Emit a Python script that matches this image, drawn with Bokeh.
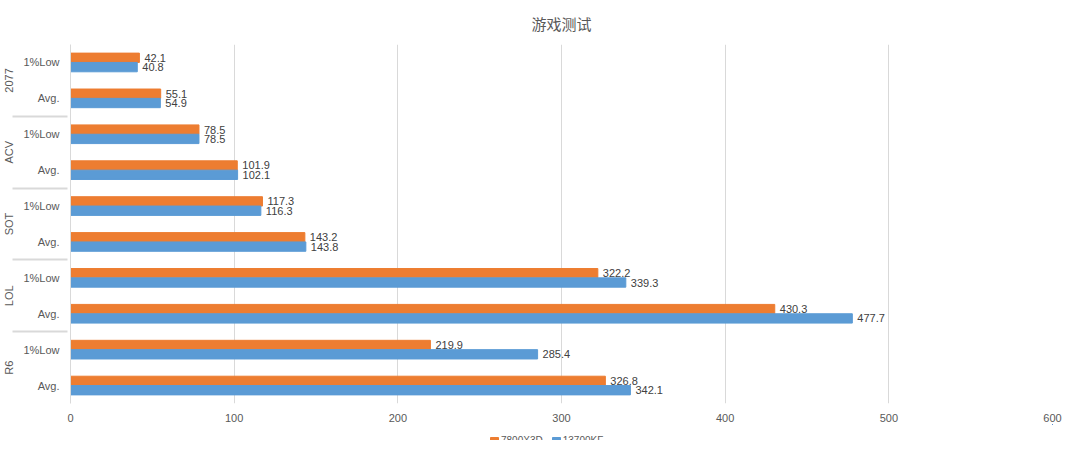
from bokeh.plotting import figure
from bokeh.models import (ColumnDataSource, FactorRange, Legend, LegendItem, FixedTicker,
                          Range1d)
from bokeh.layouts import column
from bokeh.transform import dodge
from bokeh.core.properties import value
from bokeh.embed import file_html
from bokeh.resources import INLINE

games = ["R6", "LOL", "SOT", "ACV", "2077"]          # bottom to top
metrics = ["Avg.", "1%Low"]                          # bottom to top within game
series = ["7800X3D", "13700KF"]
colors = ["#ED7D31", "#5B9BD5"]
# values per (game, metric), order matches factors below
v7800 = [326.8, 219.9, 430.3, 322.2, 143.2, 117.3, 101.9, 78.5, 55.1, 42.1]
v13700 = [342.1, 285.4, 477.7, 339.3, 143.8, 116.3, 102.1, 78.5, 54.9, 40.8]
x_ticks = [0, 100, 200, 300, 400, 500, 600]

factors = [(g, m) for g in games for m in metrics]
src = ColumnDataSource(dict(
    y=factors, a=v7800, b=v13700,
    la=[f"{v:.1f}" for v in v7800], lb=[f"{v:.1f}" for v in v13700],
))

font = "Liberation Sans"
txt = "#595959"

p = figure(width=1064, height=424, output_backend="svg", toolbar_location=None,
           y_range=FactorRange(*factors, group_padding=0, factor_padding=0, range_padding=0),
           x_range=(0, 600), min_border_left=59, min_border_right=12,
           min_border_top=0, min_border_bottom=0)

p.title.text = "游戏测试"
p.title.align = "center"
p.title.text_font = "Noto Sans CJK SC"
p.title.text_font_size = "15px"
p.title.text_font_style = "normal"
p.title.text_color = txt
p.title.standoff = 21

p.hbar(y=dodge("y", 0.13, range=p.y_range), right="a", height=0.26, left=0,
       source=src, color=colors[0])
p.hbar(y=dodge("y", -0.13, range=p.y_range), right="b", height=0.26, left=0,
       source=src, color=colors[1])

p.text(x="a", y=dodge("y", 0.13, range=p.y_range), text="la", source=src,
       x_offset=5, text_baseline="middle", text_font_size="11px",
       text_font=value(font), text_color="#404040")
p.text(x="b", y=dodge("y", -0.13, range=p.y_range), text="lb", source=src,
       x_offset=5, text_baseline="middle", text_font_size="11px",
       text_font=value(font), text_color="#404040")

p.outline_line_color = None
p.ygrid.grid_line_color = None
p.xgrid.grid_line_color = "#d9d9d9"
p.xaxis.ticker = FixedTicker(ticks=x_ticks)
p.xaxis.axis_line_color = None
p.xaxis.major_tick_line_color = None
p.xaxis.minor_tick_line_color = None
p.xaxis.major_tick_out = 0
p.xaxis.major_label_standoff = 10
p.xaxis.major_label_text_font = font
p.xaxis.major_label_text_font_size = "11px"
p.xaxis.major_label_text_color = txt

ya = p.yaxis[0]
ya.axis_line_color = "#d9d9d9"
ya.major_tick_line_color = None
ya.minor_tick_line_color = None
ya.major_label_text_font = font
ya.major_label_text_font_size = "11px"
ya.major_label_text_color = txt
ya.group_text_font = font
ya.group_text_font_size = "11px"
ya.group_text_color = txt
ya.group_text_font_style = "normal"
ya.separator_line_color = "#d9d9d9"

# legend strip below the chart; its helper bars lie outside this strip's view
p2 = figure(width=1064, height=16, output_backend="svg", toolbar_location=None,
            title=None,
            x_range=Range1d(-2, -1), y_range=Range1d(-2, -1),
            x_axis_location=None, y_axis_location=None,
            min_border_left=0, min_border_right=0, min_border_top=0, min_border_bottom=0)
p2.outline_line_color = None
p2.grid.grid_line_color = None
g1 = p2.hbar(y="a", right="a", left=0, height=1, source=src, color=colors[0])
g2 = p2.hbar(y="b", right="b", left=0, height=1, source=src, color=colors[1])
legend = Legend(items=[LegendItem(label=series[0], renderers=[g1]),
                       LegendItem(label=series[1], renderers=[g2])],
                orientation="horizontal", location=(419, -6),
                border_line_color=None, background_fill_alpha=0,
                label_text_font=font, label_text_font_size="10px",
                label_text_color=txt, glyph_width=10, glyph_height=10,
                spacing=8, padding=0, margin=0, label_standoff=2, label_height=10)
p2.add_layout(legend, "center")

open("out.html", "w").write(file_html(column(p, p2, spacing=0), INLINE))
